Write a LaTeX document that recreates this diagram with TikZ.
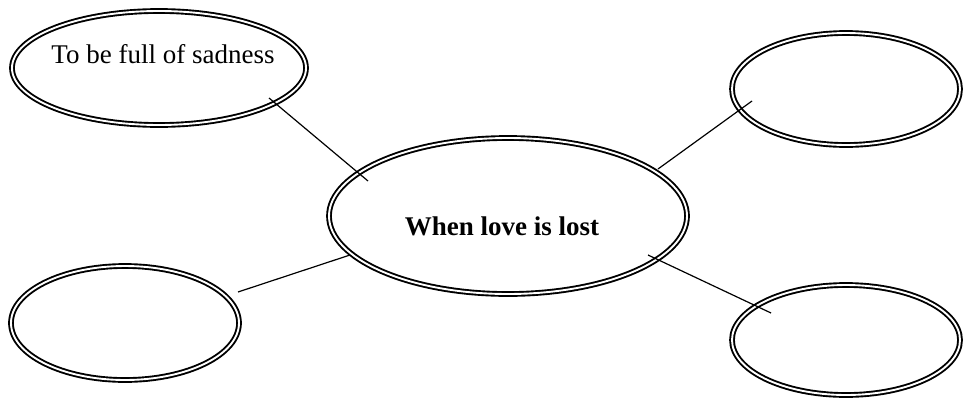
\documentclass[tikz,border=0pt]{standalone}
\usepackage{fontspec}
\setmainfont{Liberation Serif}
\usetikzlibrary{shapes.geometric}
\begin{document}
\begin{tikzpicture}[x=1pt,y=-1pt,
  bubble/.style={ellipse,draw=black,line width=1.9pt,double=white,double distance=1.9pt,inner sep=0pt},
  link/.style={draw=black,line width=1.2pt},
  lbl/.style={inner sep=0pt,anchor=base,font=\fontsize{27}{32}\selectfont}]
\useasboundingbox (0,0) rectangle (965,399);
\node[bubble,minimum width=294pt,minimum height=114pt] (tl) at (159,68) {};
\node[bubble,minimum width=358pt,minimum height=156pt] (c) at (508,216) {};
\node[bubble,minimum width=228pt,minimum height=112pt] (tr) at (846,89) {};
\node[bubble,minimum width=228pt,minimum height=114pt] (bl) at (125,323) {};
\node[bubble,minimum width=228pt,minimum height=110pt] (br) at (846,340) {};
\node[lbl] (tltext) at (163,63) {To be full of sadness};
\node[lbl,font=\fontsize{27}{32}\selectfont\bfseries] (ctext) at (502,235) {When love is lost};
\coordinate (a1) at (269,98);
\coordinate (a2) at (368,181);
\coordinate (b1) at (658,169);
\coordinate (b2) at (752,101);
\coordinate (c1) at (350,255);
\coordinate (c2) at (238,292);
\coordinate (d1) at (648,255);
\coordinate (d2) at (771,313);
\draw[link] (a1) -- (a2);
\draw[link] (b1) -- (b2);
\draw[link] (c1) -- (c2);
\draw[link] (d1) -- (d2);
\end{tikzpicture}
\end{document}
